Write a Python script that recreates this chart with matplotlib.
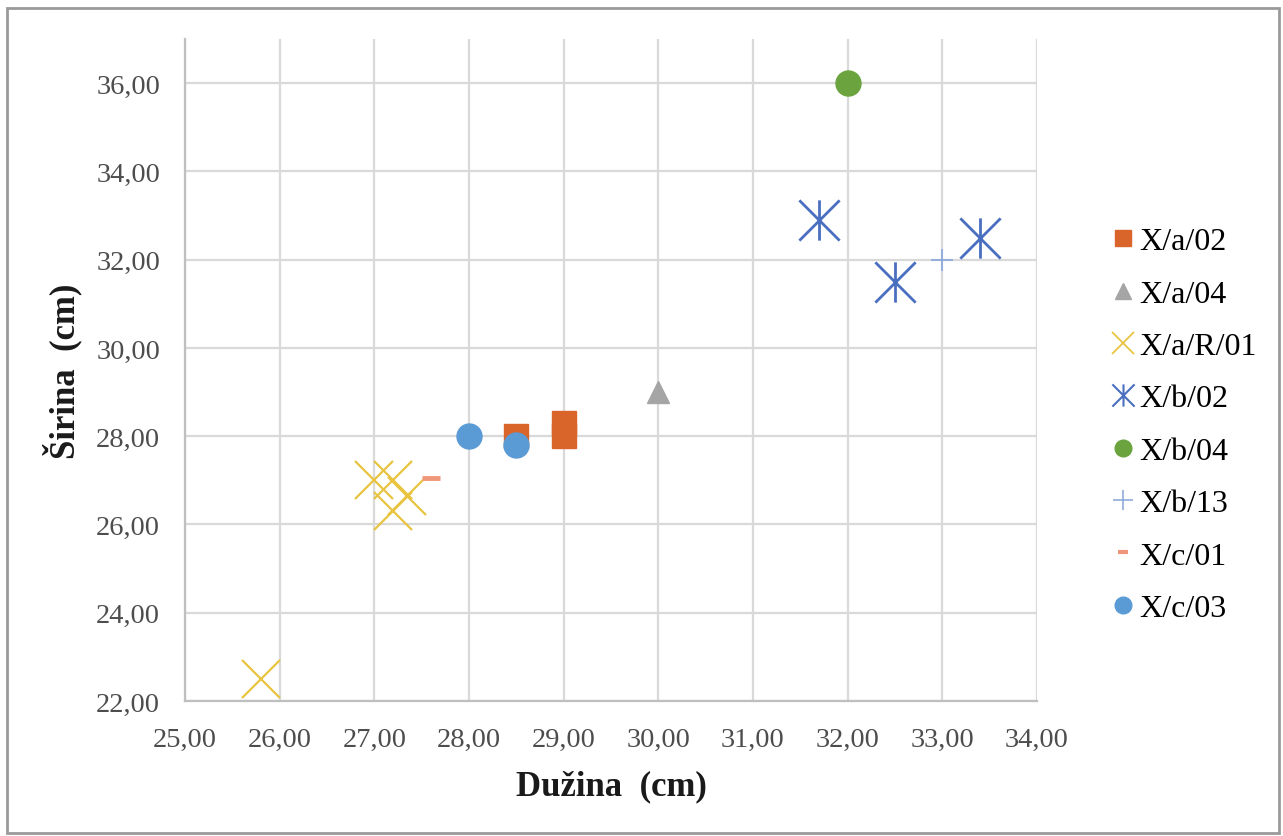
import matplotlib
matplotlib.use("Agg")
import matplotlib.pyplot as plt
from matplotlib.path import Path
from matplotlib.lines import Line2D
from matplotlib.patches import Rectangle

plt.rcParams['font.family'] = ['Liberation Serif', 'DejaVu Serif']

# Data (Dužina, Širina)
xa02_x = [28.5, 29.0, 29.0]
xa02_y = [28.0, 28.3, 28.0]
xa04_x = [30.0]
xa04_y = [29.0]
xaR01_x = [27.0, 27.2, 27.2, 27.35, 25.8]
xaR01_y = [27.0, 27.0, 26.3, 26.65, 22.5]
xb02_x = [31.7, 32.5, 33.4]
xb02_y = [32.9, 31.5, 32.5]
xb04_x = [32.0]
xb04_y = [36.0]
xb13_x = [33.0]
xb13_y = [32.0]
xc01_x = [27.6]
xc01_y = [27.05]
xc03_x = [28.0, 28.5]
xc03_y = [28.0, 27.8]

labels = ["X/a/02", "X/a/04", "X/a/R/01", "X/b/02", "X/b/04", "X/b/13", "X/c/01", "X/c/03"]
x_ticks = [25, 26, 27, 28, 29, 30, 31, 32, 33, 34]
y_ticks = [22, 24, 26, 28, 30, 32, 34, 36]

c_orange = '#D9652B'
c_gray = '#A5A5A5'
c_yellow = '#E9C440'
c_blue = '#4A6FC0'
c_green = '#6BA43F'
c_plus = '#8FAADC'
c_salmon = '#F0977A'
c_lblue = '#5B9BD5'

# Excel-style star marker: X plus vertical line
star = Path([(-0.5, -0.5), (0.5, 0.5), (-0.5, 0.5), (0.5, -0.5), (0, -0.5), (0, 0.5)],
            [Path.MOVETO, Path.LINETO, Path.MOVETO, Path.LINETO, Path.MOVETO, Path.LINETO])

fig = plt.figure(figsize=(12.83, 8.37), dpi=100)
ax = fig.add_axes([185/1283, 135/837, (1037-185)/1283, (702-40)/837])

ax.plot(xa02_x, xa02_y, ls='none', marker='s', ms=17, color=c_orange, zorder=3)
ax.plot(xa04_x, xa04_y, ls='none', marker='^', ms=16, color=c_gray, zorder=3)
ax.plot(xaR01_x, xaR01_y, ls='none', marker='x', ms=28, mew=1.6, color=c_yellow, zorder=3)
ax.plot(xb02_x, xb02_y, ls='none', marker=star, ms=29, mew=2.0, color=c_blue, fillstyle='none', zorder=3)
ax.plot(xb04_x, xb04_y, ls='none', marker='o', ms=18, color=c_green, zorder=3)
ax.plot(xb13_x, xb13_y, ls='none', marker='+', ms=16, mew=1.3, color=c_plus, zorder=3)
ax.plot(xc01_x, xc01_y, ls='none', marker='_', ms=13, mew=3.5, color=c_salmon, zorder=3)
ax.plot(xc03_x, xc03_y, ls='none', marker='o', ms=18, color=c_lblue, zorder=4)

ax.set_xlim(25, 34)
ax.set_ylim(22, 37)
ax.set_xticks(x_ticks)
ax.set_yticks(y_ticks)
ax.set_xticklabels([f"{v:.2f}".replace('.', ',') for v in x_ticks])
ax.set_yticklabels([f"{v:.2f}".replace('.', ',') for v in y_ticks])
ax.tick_params(length=0, labelsize=20.5, colors='#4d4d4d')
ax.tick_params(axis='x', pad=19)
ax.tick_params(axis='y', pad=18)
ax.grid(True, color='#D9D9D9', lw=1.6)
ax.set_axisbelow(True)
for s in ['top', 'right']:
    ax.spines[s].set_visible(False)
for s in ['left', 'bottom']:
    ax.spines[s].set_color('#BFBFBF')
    ax.spines[s].set_linewidth(1.6)

ax.set_xlabel("Dužina  (cm)", fontsize=25, fontweight='bold', labelpad=12, color='#1a1a1a')
ax.set_ylabel("Širina  (cm)", fontsize=25, fontweight='bold', labelpad=10, color='#1a1a1a')

handles = [
    Line2D([], [], ls='none', marker='s', ms=12, color=c_orange),
    Line2D([], [], ls='none', marker='^', ms=12, color=c_gray),
    Line2D([], [], ls='none', marker='x', ms=16, mew=1.3, color=c_yellow),
    Line2D([], [], ls='none', marker=star, ms=16, mew=1.5, color=c_blue, fillstyle='none'),
    Line2D([], [], ls='none', marker='o', ms=12, color=c_green),
    Line2D([], [], ls='none', marker='+', ms=15, mew=1.2, color=c_plus),
    Line2D([], [], ls='none', marker='_', ms=7, mew=3, color=c_salmon),
    Line2D([], [], ls='none', marker='o', ms=12, color=c_lblue),
]
fig.legend(handles, labels, loc='upper left', bbox_to_anchor=(1109/1283, 1 - 228/837),
           frameon=False, fontsize=23, handlelength=0.9, handletextpad=0.05,
           labelspacing=0.72, borderaxespad=0, borderpad=0)

fig.patches.append(Rectangle((7/1283, 1 - 834/837), (1279-7)/1283, (834-9)/837,
                             transform=fig.transFigure, fill=False,
                             edgecolor='#9a9a9a', lw=2))

fig.savefig('out.png', dpi=100)
